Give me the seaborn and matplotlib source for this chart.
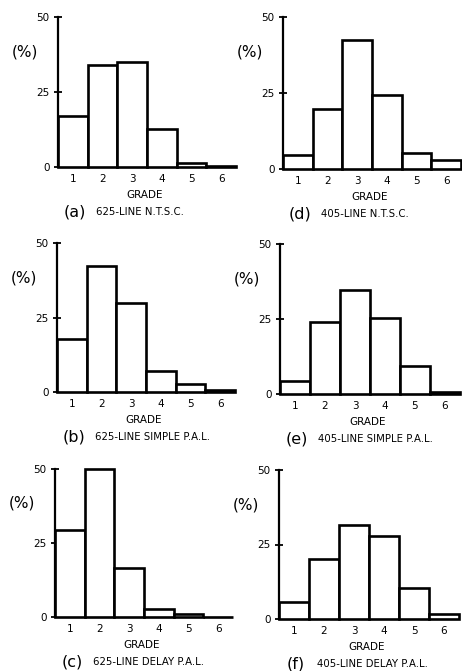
import matplotlib
matplotlib.use("Agg")
import matplotlib.pyplot as plt
import seaborn as sns
import pandas as pd
from matplotlib.transforms import offset_copy

sns.set_style("white")
plt.rcParams['font.family'] = ['DejaVu Sans']
plt.rcParams['text.color'] = 'black'
plt.rcParams['xtick.color'] = 'black'
plt.rcParams['ytick.color'] = 'black'
plt.rcParams['axes.labelcolor'] = 'black'

grades = ["1", "2", "3", "4", "5", "6"]
pct_a = [17.1, 34.0, 35.0, 12.8, 1.3, 0.3]
pct_b = [17.9, 42.4, 29.9, 7.2, 2.7, 0.6]
pct_c = [29.3, 50.0, 16.7, 2.7, 0.9, 0.1]
pct_d = [4.5, 19.9, 42.4, 24.3, 5.4, 3.0]
pct_e = [4.2, 23.9, 34.8, 25.3, 9.2, 0.6]
pct_f = [5.6, 20.2, 31.6, 27.7, 10.5, 1.7]

letters = ["a", "b", "c", "d", "e", "f"]
captions = ["625-LINE N.T.S.C.", "625-LINE SIMPLE P.A.L.", "625-LINE DELAY P.A.L.",
            "405-LINE N.T.S.C.", "405-LINE SIMPLE P.A.L.", "405-LINE DELAY P.A.L."]
yticks = [0, 25, 50]
ytick_labels = ["0", "25", "50"]
series = [pct_a, pct_b, pct_c, pct_d, pct_e, pct_f]

W, H = 462, 671
fig = plt.figure(figsize=(W / 100, H / 100), dpi=100)

# (left px, y0 px, y50 px, width px)
geom = [(58, 167, 17, 178), (57, 392, 243, 178), (55, 617, 469, 178),
        (283, 169, 17, 178), (280, 394, 244, 180), (279, 619, 470, 180)]

for vals, let, cap, (lx, y0, y50, wd) in zip(series, letters, captions, geom):
    ax = fig.add_axes([lx / W, 1 - y0 / H, wd / W, (y0 - y50) / H])
    df = pd.DataFrame({"grade": grades, "pct": vals})
    sns.barplot(data=df, x="grade", y="pct", ax=ax, width=1.0, color="white",
                edgecolor="black", linewidth=1.9, saturation=1)
    for p in ax.patches:
        p.set_clip_on(False)
    ax.set_xlim(-0.5, 5.5)
    ax.set_ylim(0, 50)
    ax.set_yticks(yticks)
    ax.set_yticklabels(ytick_labels, fontsize=7.5)
    ax.tick_params(axis="y", direction="inout", length=6, width=1.3, pad=3, left=True,
                   colors="black")
    ax.tick_params(axis="x", length=0, pad=5, labelsize=7.5, colors="black")
    for s in ["top", "right", "bottom"]:
        ax.spines[s].set_visible(False)
    ax.spines["left"].set_linewidth(1.6)
    ax.spines["left"].set_color("black")
    ax.set_xlabel("")
    ax.set_ylabel("")
    ax.patch.set_alpha(0)

    # (%) label
    t = offset_copy(ax.transAxes, fig=fig, x=-33, y=0, units="dots")
    ax.text(0, 0.767, "(%)", transform=t, fontsize=11, ha="center", va="center",
            color="black")
    # GRADE
    t = offset_copy(ax.transAxes, fig=fig, x=wd / 2 - 2, y=-28, units="dots")
    ax.text(0, 0, "GRADE", transform=t, fontsize=7.5, ha="center", va="center",
            color="black")
    # caption
    t = offset_copy(ax.transAxes, fig=fig, x=17, y=-45, units="dots")
    ax.text(0, 0, f"({let})", transform=t, fontsize=11.5, ha="center", va="center",
            color="black")
    t = offset_copy(ax.transAxes, fig=fig, x=38, y=-45, units="dots")
    ax.text(0, 0, cap, transform=t, fontsize=7.3, ha="left", va="center",
            color="black")

fig.savefig("out.png", dpi=100)
